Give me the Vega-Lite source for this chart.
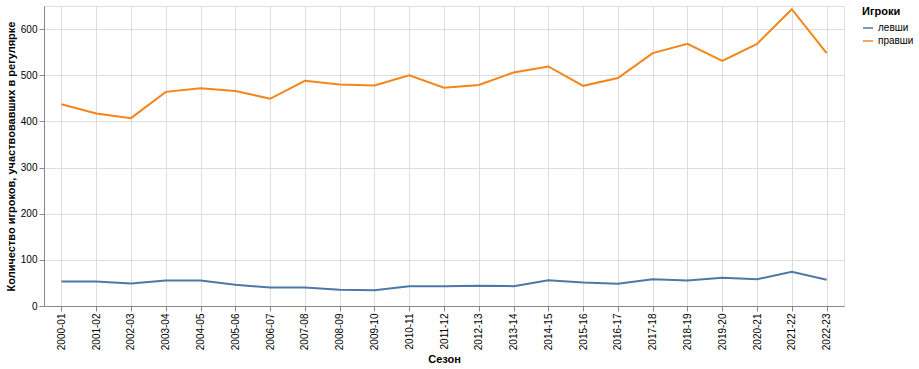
{
  "$schema": "https://vega.github.io/schema/vega-lite/v6.json",
  "width": 800,
  "height": 300,
  "data": {"values": [
    {"season":"2000-01","hand":"левши","n":53},{"season":"2000-01","hand":"правши","n":437},
    {"season":"2001-02","hand":"левши","n":53},{"season":"2001-02","hand":"правши","n":417},
    {"season":"2002-03","hand":"левши","n":49},{"season":"2002-03","hand":"правши","n":407},
    {"season":"2003-04","hand":"левши","n":55},{"season":"2003-04","hand":"правши","n":464},
    {"season":"2004-05","hand":"левши","n":55},{"season":"2004-05","hand":"правши","n":472},
    {"season":"2005-06","hand":"левши","n":46},{"season":"2005-06","hand":"правши","n":466},
    {"season":"2006-07","hand":"левши","n":40},{"season":"2006-07","hand":"правши","n":449},
    {"season":"2007-08","hand":"левши","n":40},{"season":"2007-08","hand":"правши","n":488},
    {"season":"2008-09","hand":"левши","n":35},{"season":"2008-09","hand":"правши","n":480},
    {"season":"2009-10","hand":"левши","n":34},{"season":"2009-10","hand":"правши","n":478},
    {"season":"2010-11","hand":"левши","n":43},{"season":"2010-11","hand":"правши","n":500},
    {"season":"2011-12","hand":"левши","n":43},{"season":"2011-12","hand":"правши","n":473},
    {"season":"2012-13","hand":"левши","n":44},{"season":"2012-13","hand":"правши","n":479},
    {"season":"2013-14","hand":"левши","n":43},{"season":"2013-14","hand":"правши","n":506},
    {"season":"2014-15","hand":"левши","n":56},{"season":"2014-15","hand":"правши","n":519},
    {"season":"2015-16","hand":"левши","n":51},{"season":"2015-16","hand":"правши","n":477},
    {"season":"2016-17","hand":"левши","n":48},{"season":"2016-17","hand":"правши","n":494},
    {"season":"2017-18","hand":"левши","n":58},{"season":"2017-18","hand":"правши","n":548},
    {"season":"2018-19","hand":"левши","n":55},{"season":"2018-19","hand":"правши","n":568},
    {"season":"2019-20","hand":"левши","n":61},{"season":"2019-20","hand":"правши","n":531},
    {"season":"2020-21","hand":"левши","n":58},{"season":"2020-21","hand":"правши","n":568},
    {"season":"2021-22","hand":"левши","n":74},{"season":"2021-22","hand":"правши","n":643},
    {"season":"2022-23","hand":"левши","n":57},{"season":"2022-23","hand":"правши","n":548}
  ]},
  "mark": "line",
  "encoding": {
    "x": {"field": "season", "type": "ordinal", "title": "Сезон", "axis": {"grid": true}},
    "y": {"field": "n", "type": "quantitative", "title": "Количество игроков, участвовавших в регулярке"},
    "color": {"field": "hand", "type": "nominal", "title": "Игроки"}
  }
}
